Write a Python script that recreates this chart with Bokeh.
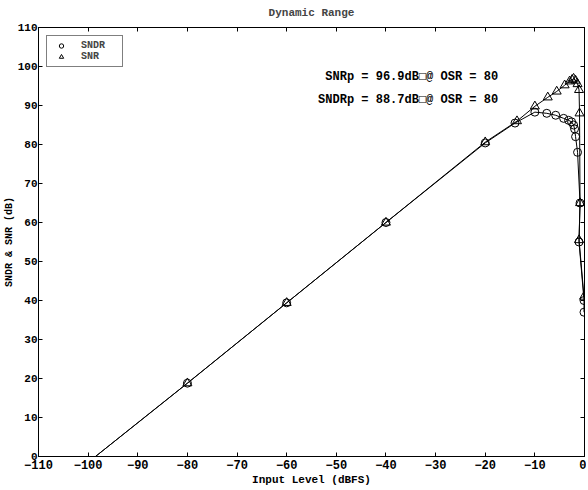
from bokeh.plotting import figure
from bokeh.models import Label, LinearAxis, SingleIntervalTicker, Legend, LegendItem, Range1d
from bokeh.embed import file_html
from bokeh.resources import INLINE

# SNDR (circles)
sndr_x = [-100, -80, -60, -40, -20, -14, -10, -7.6, -5.8, -4.2, -3.2, -2.6, -2.2, -2.0, -1.8, -1.4, -0.9, -1.1, -0.1, -0.1]
sndr_y = [-1.5, 18.8, 39.4, 60.0, 80.4, 85.5, 88.3, 88.0, 87.5, 86.7, 86.2, 85.8, 85.0, 84.0, 82.0, 78.0, 65.0, 55.0, 40.0, 37.0]
# SNR (triangles)
snr_x = [-100, -80, -60, -40, -20, -13.6, -10, -7.4, -5.6, -4.0, -3.0, -2.5, -2.2, -1.8, -1.4, -1.1, -1.0, -0.9, -1.1, -0.1]
snr_y = [-1.5, 18.8, 39.4, 60.0, 80.6, 86.0, 89.8, 92.1, 93.6, 95.2, 96.2, 96.6, 96.9, 96.4, 95.5, 94.0, 88.0, 65.0, 55.5, 41.0]

notes = ["SNRp = 96.9dB\u25a1@ OSR = 80", "SNDRp = 88.7dB\u25a1@ OSR = 80"]
notes_x = [-17.4, -17.4]
notes_y = [97.2, 91.3]

tick_values = list(range(-110, 1, 10))
ytick_values = list(range(0, 111, 10))

FONT = "Liberation Mono"

p = figure(width=586, height=488, output_backend="svg", toolbar_location=None,
           x_range=Range1d(-110, 0), y_range=Range1d(0, 110),
           title="Dynamic Range", x_axis_label="Input Level (dBFS)",
           y_axis_label="SNDR & SNR (dB)",
           min_border_left=37, min_border_right=2, min_border_top=25, min_border_bottom=32)

p.title.align = "center"
p.title.vertical_align = "top"
p.title.text_font = FONT
p.title.text_font_size = "11px"
p.title.text_font_style = "bold"
p.title.standoff = 13

p.xgrid.visible = False
p.ygrid.visible = False
p.outline_line_color = "black"
p.outline_line_width = 1
p.background_fill_color = "white"
p.border_fill_color = "white"

for ax in (p.xaxis[0], p.yaxis[0]):
    ax.ticker = SingleIntervalTicker(interval=10)
    ax.major_tick_in = 4
    ax.major_tick_out = 0
    ax.minor_tick_in = 0
    ax.minor_tick_out = 0
    ax.major_label_text_font = FONT
    ax.major_label_text_font_size = "12px"
    ax.major_label_text_font_style = "bold"
    ax.major_label_text_color = "black"
    ax.axis_label_text_font = FONT
    ax.axis_label_text_font_size = "11px"
    ax.axis_label_text_font_style = "bold"
    ax.axis_label_text_color = "black"
    ax.axis_line_color = "black"
    ax.major_label_standoff = 3
    ax.axis_label_standoff = 2
p.yaxis[0].major_label_text_font_size = "11px"
p.yaxis[0].axis_label_text_font_size = "10px"
p.yaxis[0].major_label_standoff = 1
p.yaxis[0].axis_label_standoff = 0

# mirrored ticks on top/right, without labels
for loc, vals in (("above", tick_values), ("right", ytick_values)):
    ax = LinearAxis(ticker=SingleIntervalTicker(interval=10),
                    major_label_overrides={v: "" for v in vals})
    ax.major_tick_in = 4
    ax.major_tick_out = 0
    ax.minor_tick_in = 0
    ax.minor_tick_out = 0
    ax.major_label_standoff = 0
    ax.axis_line_color = "black"
    p.add_layout(ax, loc)

p.line(sndr_x, sndr_y, line_color="black", line_width=1)
p.line(snr_x, snr_y, line_color="black", line_width=1)
r_c = p.scatter(sndr_x, sndr_y, marker="circle", size=8, fill_color=None, line_color="black", line_width=1)
r_t = p.scatter(snr_x, snr_y, marker="triangle", size=9, fill_color=None, line_color="black", line_width=1)

legend = Legend(items=[LegendItem(label="SNDR", renderers=[r_c]),
                       LegendItem(label="SNR", renderers=[r_t])],
                location="top_left")
legend.label_text_font = FONT
legend.label_text_font_size = "10px"
legend.label_text_font_style = "bold"
legend.border_line_color = "black"
legend.border_line_width = 1
legend.background_fill_alpha = 1
legend.glyph_width = 20
legend.glyph_height = 11
legend.label_height = 11
legend.label_width = 37
legend.spacing = 0
legend.padding = 4
legend.margin = 8
legend.label_standoff = 10
p.add_layout(legend)

for t, x, y in zip(notes, notes_x, notes_y):
    p.add_layout(Label(x=x, y=y, text=t, text_align="right", text_baseline="middle",
                       text_font=FONT, text_font_size="12px", text_font_style="bold",
                       text_color="black"))

open("out.html", "w").write(file_html(p, INLINE))
